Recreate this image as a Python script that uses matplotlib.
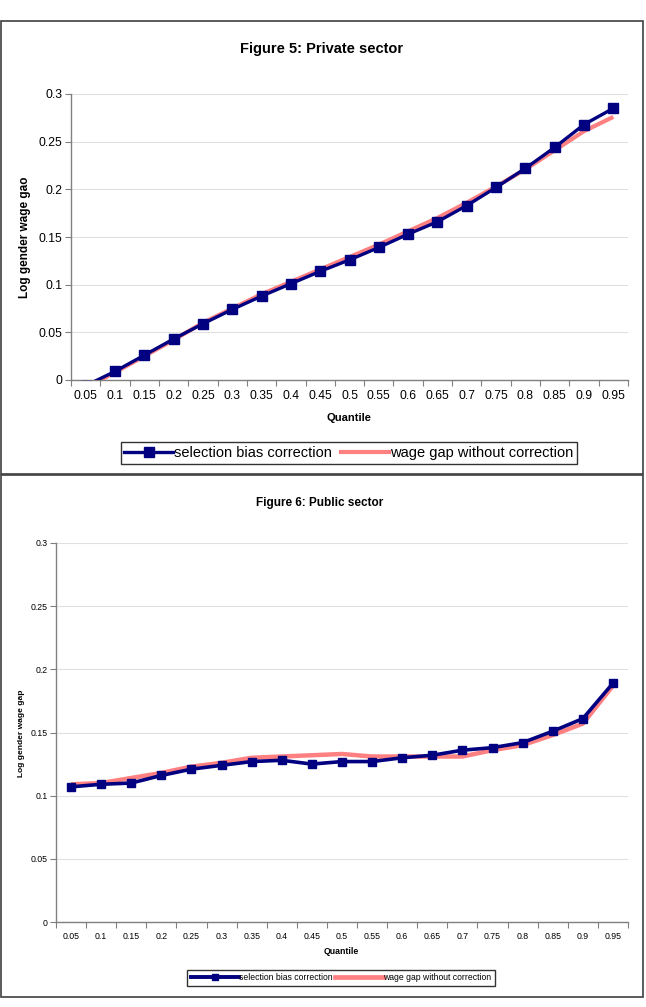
import numpy as np
import matplotlib
matplotlib.use('Agg')
from matplotlib import pyplot as plt
from matplotlib.patches import Rectangle

plt.rcParams['font.family'] = ['Liberation Sans', 'DejaVu Sans']

quantiles = ['0.05', '0.1', '0.15', '0.2', '0.25', '0.3', '0.35', '0.4', '0.45', '0.5',
             '0.55', '0.6', '0.65', '0.7', '0.75', '0.8', '0.85', '0.9', '0.95']

# Figure 5: private sector
priv_corr = [-0.006, 0.009, 0.026, 0.043, 0.059, 0.074, 0.088, 0.101, 0.114, 0.126,
             0.139, 0.153, 0.166, 0.183, 0.202, 0.222, 0.244, 0.268, 0.285]
priv_nocorr = [-0.008, 0.008, 0.025, 0.042, 0.060, 0.075, 0.090, 0.103, 0.116, 0.129,
               0.142, 0.156, 0.170, 0.186, 0.203, 0.221, 0.241, 0.261, 0.276]

# Figure 6: public sector
pub_corr = [0.107, 0.109, 0.110, 0.116, 0.121, 0.124, 0.127, 0.128, 0.125, 0.127,
            0.127, 0.130, 0.132, 0.136, 0.138, 0.142, 0.151, 0.161, 0.189]
pub_nocorr = [0.109, 0.110, 0.114, 0.118, 0.123, 0.126, 0.130, 0.131, 0.132, 0.133,
              0.131, 0.131, 0.131, 0.131, 0.136, 0.140, 0.148, 0.157, 0.187]

yticks = [0, 0.05, 0.1, 0.15, 0.2, 0.25, 0.3]
ytick_labels = ['0', '0.05', '0.1', '0.15', '0.2', '0.25', '0.3']

W, H = 646, 1007
fig = plt.figure(figsize=(W / 100, H / 100), dpi=100)

navy = '#000080'
salmon = '#FF8080'


def px_axes(l, t, r, b):
    return fig.add_axes([l / W, 1 - b / H, (r - l) / W, (b - t) / H])


def draw_panel(ax, corr, nocorr, fs, lw_b, lw_r, ms):
    x = np.arange(len(quantiles))
    ax.plot(x, nocorr, color=salmon, lw=lw_r, zorder=3, solid_capstyle='butt')
    ax.plot(x, corr, color=navy, lw=lw_b, marker='s', ms=ms, zorder=4)
    ax.set_xlim(-0.5, len(quantiles) - 0.5)
    ax.set_ylim(0, 0.3)
    ax.set_yticks(yticks)
    ax.set_yticklabels(ytick_labels, fontsize=fs)
    ax.set_xticks(np.arange(-0.5, len(quantiles), 1.0))
    ax.set_xticklabels([])
    ax.set_xticks(x, minor=True)
    ax.set_xticklabels(quantiles, minor=True, fontsize=fs)
    ax.tick_params(axis='x', which='major', length=4, color='#808080')
    ax.tick_params(axis='x', which='minor', length=0, pad=7)
    ax.tick_params(axis='y', length=4, color='#808080', pad=2)
    ax.grid(axis='y', color='#E0E0E0', lw=0.8)
    ax.set_axisbelow(True)
    for s in ['top', 'right']:
        ax.spines[s].set_visible(False)
    for s in ['left', 'bottom']:
        ax.spines[s].set_color('#808080')
        ax.spines[s].set_linewidth(1.0)


# top panel
fig.patches.append(Rectangle((1 / W, 1 - 474 / H), 642 / W, 453 / H, transform=fig.transFigure,
                             fill=False, ec='#404040', lw=1.2))
ax1 = px_axes(71, 94, 628, 380)
draw_panel(ax1, priv_corr, priv_nocorr, 8.7, 2.4, 3.0, 6.8)
fig.text(322 / W, 1 - 49 / H, 'Figure 5: Private sector', ha='center', va='center',
         fontsize=10.5, fontweight='bold')
fig.text(25 / W, 1 - 237 / H, 'Log gender wage gao', ha='center', va='center',
         rotation=90, fontsize=8.5, fontweight='bold')
fig.text(349 / W, 1 - 418 / H, 'Quantile', ha='center', va='center', fontsize=8, fontweight='bold')
h1, = ax1.plot([], [], color=navy, lw=2.4, marker='s', ms=6.8)
h2, = ax1.plot([], [], color=salmon, lw=3.0)
leg1 = fig.legend([h1, h2], ['selection bias correction', 'wage gap without correction'],
                  loc='center', bbox_to_anchor=(349 / W, 1 - 453 / H), ncol=2, fontsize=10.5,
                  frameon=True, fancybox=False, edgecolor='black', handlelength=3.3,
                  handletextpad=0.1, columnspacing=0.6, borderpad=0.25, borderaxespad=0)
leg1.get_frame().set_linewidth(1.0)

# bottom panel
fig.patches.append(Rectangle((1 / W, 1 - 997 / H), 642 / W, 522 / H, transform=fig.transFigure,
                             fill=False, ec='#404040', lw=1.2))
ax2 = px_axes(56, 543, 628, 922)
draw_panel(ax2, pub_corr, pub_nocorr, 6.3, 2.6, 3.2, 6)
fig.text(320 / W, 1 - 503 / H, 'Figure 6: Public sector', ha='center', va='center',
         fontsize=8.5, fontweight='bold')
fig.text(22 / W, 1 - 733 / H, 'Log gender wage gap', ha='center', va='center',
         rotation=90, fontsize=6, fontweight='bold')
fig.text(341 / W, 1 - 951 / H, 'Quantile', ha='center', va='center', fontsize=6.3, fontweight='bold')
h3, = ax2.plot([], [], color=navy, lw=2.8, marker='s', ms=5)
h4, = ax2.plot([], [], color=salmon, lw=3.4)
leg2 = fig.legend([h3, h4], ['selection bias correction', 'wage gap without correction'],
                  loc='center', bbox_to_anchor=(341 / W, 1 - 978 / H), ncol=2, fontsize=6.2,
                  frameon=True, fancybox=False, edgecolor='black', handlelength=5.6,
                  handletextpad=0.0, columnspacing=0.3, borderpad=0.45, borderaxespad=0)
leg2.get_frame().set_linewidth(1.0)

fig.savefig('out.png', dpi=100)
